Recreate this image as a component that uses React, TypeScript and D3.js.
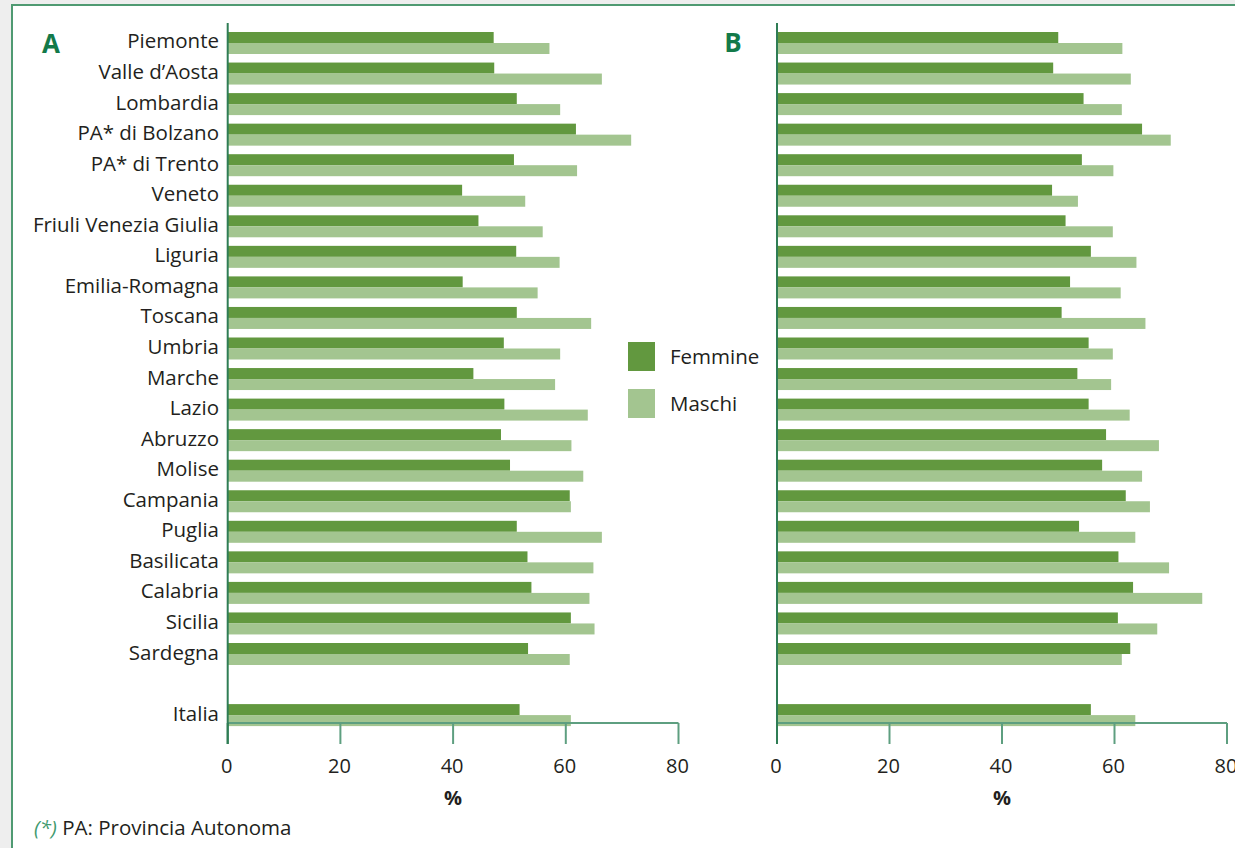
import React from "react";
import * as d3 from "d3";

const regions = [
  "Piemonte", "Valle d\u2019Aosta", "Lombardia", "PA* di Bolzano", "PA* di Trento",
  "Veneto", "Friuli Venezia Giulia", "Liguria", "Emilia-Romagna", "Toscana",
  "Umbria", "Marche", "Lazio", "Abruzzo", "Molise", "Campania", "Puglia",
  "Basilicata", "Calabria", "Sicilia", "Sardegna", "", "Italia",
];

// Panel A
const femmineA = [47.2, 47.3, 51.3, 61.8, 50.8, 41.6, 44.5, 51.2, 41.7, 51.3, 49.0, 43.6, 49.1, 48.5, 50.1, 60.7, 51.3, 53.2, 53.9, 60.9, 53.3, null, 51.8];
const maschiA = [57.1, 66.4, 59.0, 71.6, 62.0, 52.8, 55.9, 58.9, 55.0, 64.5, 59.0, 58.1, 63.9, 61.0, 63.1, 60.9, 66.4, 64.9, 64.2, 65.1, 60.7, null, 60.9];
// Panel B
const femmineB = [50.0, 49.1, 54.5, 64.9, 54.2, 48.9, 51.3, 55.8, 52.1, 50.6, 55.4, 53.4, 55.4, 58.5, 57.8, 62.0, 53.7, 60.7, 63.3, 60.6, 62.8, null, 55.8];
const maschiB = [61.4, 62.9, 61.3, 70.0, 59.8, 53.5, 59.7, 63.9, 61.1, 65.5, 59.7, 59.4, 62.7, 67.9, 64.9, 66.3, 63.7, 69.7, 75.6, 67.6, 61.3, null, 63.7];

const ticks = [0, 20, 40, 60, 80];
const seriesNames = ["Femmine", "Maschi"];

const DARK = "#62983f";
const LIGHT = "#a3c590";
const AXIS = "#2f7d55";
const AXIS_H = "#5e9f80";
const TEXT = "#231f20";
const FONT = "'Open Sans', sans-serif";

const y = d3.scaleBand<string>()
  .domain(regions.map((r, i) => r || "gap" + i))
  .range([32, 726.1])
  .paddingInner(0.28)
  .paddingOuter(0);

function Panel({ x0, x1, fem, mas, showLabels }: { x0: number; x1: number; fem: (number | null)[]; mas: (number | null)[]; showLabels: boolean }) {
  const x = d3.scaleLinear().domain([0, 80]).range([x0, x1]);
  const axisY = 723;
  const bw = y.bandwidth() / 2;
  return (
    <g>
      {regions.map((r, i) => {
        const key = r || "gap" + i;
        const top = y(key)!;
        const f = fem[i];
        const m = mas[i];
        return (
          <g key={key}>
            {f != null && <rect x={x(0)} y={top} width={x(f) - x(0)} height={bw} fill={DARK} />}
            {m != null && <rect x={x(0)} y={top + bw} width={x(m) - x(0)} height={bw} fill={LIGHT} />}
            {showLabels && r && (
              <text x={219} y={top + bw - 2.5} textAnchor="end" dominantBaseline="central" fontSize={20.5} fontFamily={FONT} fill={TEXT}>{r}</text>
            )}
          </g>
        );
      })}
      <line x1={x(0)} x2={x(80)} y1={axisY} y2={axisY} stroke={AXIS_H} strokeWidth={2} />
      {ticks.map((t) => (
        <g key={t}>
          <line x1={x(t)} x2={x(t)} y1={axisY} y2={744} stroke={t === 0 ? AXIS : AXIS_H} strokeWidth={2} />
          <text x={x(t) - 1} y={765} textAnchor="middle" dominantBaseline="central" fontSize={20} fontFamily={FONT} fill={TEXT}>{t}</text>
        </g>
      ))}
      <line x1={x(0)} x2={x(0)} y1={23} y2={744} stroke={AXIS} strokeWidth={2} />
      <text x={x(40)} y={797} textAnchor="middle" dominantBaseline="central" fontSize={20} fontWeight="bold" fontFamily={FONT} fill={TEXT}>%</text>
    </g>
  );
}

export default function App() {
  return (
    <svg width={1235} height={848} style={{ position: "absolute", left: 0, top: 0, background: "#eeeeee" }}>
      <rect x={12} y={5} width={1240} height={860} fill="#ffffff" stroke="#4f9a72" strokeWidth={2} />
      <text x={51} y={43} textAnchor="middle" dominantBaseline="central" fontSize={26} fontWeight="bold" fontFamily={FONT} fill="#137a4a">A</text>
      <text x={733} y={42} textAnchor="middle" dominantBaseline="central" fontSize={26} fontWeight="bold" fontFamily={FONT} fill="#137a4a">B</text>
      <Panel x0={227.7} x1={678.5} fem={femmineA} mas={maschiA} showLabels={true} />
      <Panel x0={777} x1={1227} fem={femmineB} mas={maschiB} showLabels={false} />
      <g>
        <rect x={628} y={342} width={27} height={29} fill={DARK} />
        <text x={670} y={356} dominantBaseline="central" fontSize={20.5} fontFamily={FONT} fill={TEXT}>{seriesNames[0]}</text>
        <rect x={628} y={389} width={27} height={29} fill={LIGHT} />
        <text x={670} y={403} dominantBaseline="central" fontSize={20.5} fontFamily={FONT} fill={TEXT}>{seriesNames[1]}</text>
      </g>
      <text x={34} y={827} dominantBaseline="central" fontSize={20.5} fontFamily={FONT} fill={TEXT}>
        <tspan fill="#3f9a6e" fontStyle="italic">(*)</tspan> PA: Provincia Autonoma
      </text>
    </svg>
  );
}
